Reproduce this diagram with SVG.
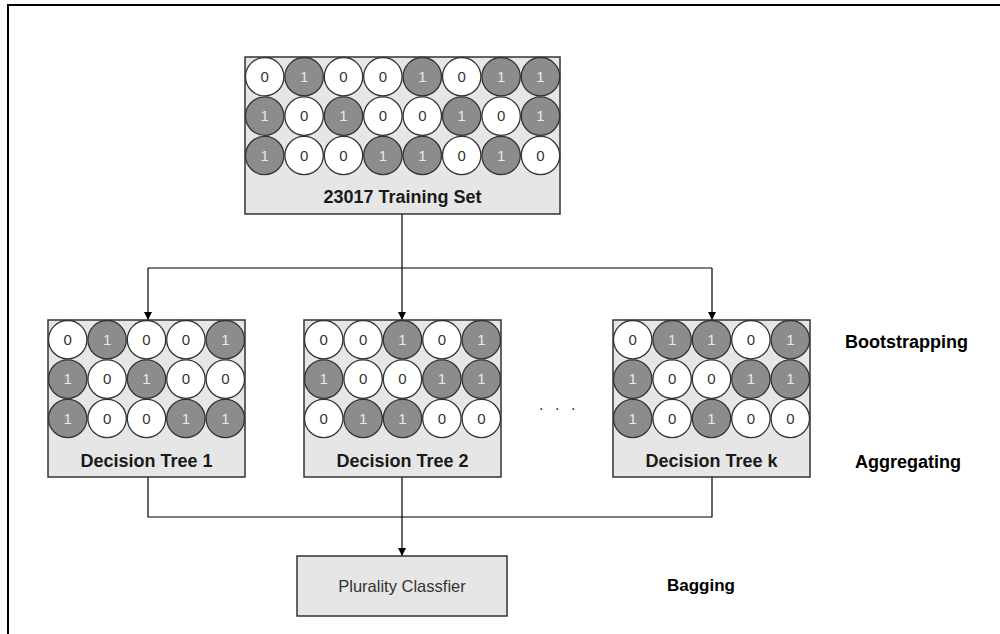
<svg xmlns="http://www.w3.org/2000/svg" width="1000" height="634" viewBox="0 0 1000 634">
<defs>
<style>
.frame{fill:none;stroke:#000;stroke-width:2}
.box{fill:#e6e6e6;stroke:#333;stroke-width:1.5}
.c0{fill:#fff;stroke:#333;stroke-width:1.3}
.c1{fill:#8c8c8c;stroke:#333;stroke-width:1.3}
.t0{font-family:"Liberation Sans",Arial,sans-serif;font-size:15px;fill:#333;text-anchor:middle}
.t1{font-family:"Liberation Sans",Arial,sans-serif;font-size:15px;fill:#e8e8e8;text-anchor:middle}
.lbl{font-family:"Liberation Sans",Arial,sans-serif;font-size:18px;font-weight:bold;fill:#1a1a1a;text-anchor:middle}
.side{font-family:"Liberation Sans",Arial,sans-serif;font-size:18px;font-weight:bold;fill:#000}
.plain{font-family:"Liberation Sans",Arial,sans-serif;font-size:16.5px;fill:#333;text-anchor:middle}
.dots{font-family:"Liberation Sans",Arial,sans-serif;font-size:16px;fill:#333}
.conn{fill:none;stroke:#000;stroke-width:1.2}
</style>
<marker id="arr" markerWidth="10" markerHeight="10" refX="9" refY="5" orient="auto" markerUnits="userSpaceOnUse">
<path d="M1,1 L9,5 L1,9 Z" fill="#000"/>
</marker>
<g id="z"><circle r="19.2" class="c0"/><text y="5.3" class="t0">0</text></g>
<g id="o"><circle r="19.2" class="c1"/><text y="5.3" class="t1">1</text></g>
</defs>
<rect class="frame" x="8" y="5" width="1000" height="640"/>
<g id="connectors">
<path class="conn" d="M402,214 V268 M148,268 H712" />
<path class="conn" d="M148,268 V320" marker-end="url(#arr)"/>
<path class="conn" d="M402,268 V320" marker-end="url(#arr)"/>
<path class="conn" d="M712,268 V320" marker-end="url(#arr)"/>
<path class="conn" d="M148,477 V517 H712 V477 M402,477 V517"/>
<path class="conn" d="M402,517 V556" marker-end="url(#arr)"/>
</g>
<g id="training-set">
<rect class="box" x="245" y="57" width="315" height="157"/>
<use href="#z" x="264.7" y="76.7"/><use href="#o" x="304.1" y="76.7"/><use href="#z" x="343.5" y="76.7"/><use href="#z" x="382.9" y="76.7"/><use href="#o" x="422.3" y="76.7"/><use href="#z" x="461.7" y="76.7"/><use href="#o" x="501.1" y="76.7"/><use href="#o" x="540.5" y="76.7"/>
<use href="#o" x="264.7" y="116.1"/><use href="#z" x="304.1" y="116.1"/><use href="#o" x="343.5" y="116.1"/><use href="#z" x="382.9" y="116.1"/><use href="#z" x="422.3" y="116.1"/><use href="#o" x="461.7" y="116.1"/><use href="#z" x="501.1" y="116.1"/><use href="#o" x="540.5" y="116.1"/>
<use href="#o" x="264.7" y="155.5"/><use href="#z" x="304.1" y="155.5"/><use href="#z" x="343.5" y="155.5"/><use href="#o" x="382.9" y="155.5"/><use href="#o" x="422.3" y="155.5"/><use href="#z" x="461.7" y="155.5"/><use href="#o" x="501.1" y="155.5"/><use href="#z" x="540.5" y="155.5"/>
<text class="lbl" x="402.5" y="203">23017 Training Set</text>
</g>
<g id="tree-1">
<rect class="box" x="48" y="320" width="197" height="157"/>
<use href="#z" x="67.7" y="339.7"/><use href="#o" x="107.1" y="339.7"/><use href="#z" x="146.5" y="339.7"/><use href="#z" x="185.9" y="339.7"/><use href="#o" x="225.3" y="339.7"/>
<use href="#o" x="67.7" y="379.1"/><use href="#z" x="107.1" y="379.1"/><use href="#o" x="146.5" y="379.1"/><use href="#z" x="185.9" y="379.1"/><use href="#z" x="225.3" y="379.1"/>
<use href="#o" x="67.7" y="418.5"/><use href="#z" x="107.1" y="418.5"/><use href="#z" x="146.5" y="418.5"/><use href="#o" x="185.9" y="418.5"/><use href="#o" x="225.3" y="418.5"/>
<text class="lbl" x="146.5" y="467">Decision Tree 1</text>
</g>
<g id="tree-2">
<rect class="box" x="304" y="320" width="197" height="157"/>
<use href="#z" x="323.7" y="339.7"/><use href="#z" x="363.1" y="339.7"/><use href="#o" x="402.5" y="339.7"/><use href="#z" x="441.9" y="339.7"/><use href="#o" x="481.3" y="339.7"/>
<use href="#o" x="323.7" y="379.1"/><use href="#z" x="363.1" y="379.1"/><use href="#z" x="402.5" y="379.1"/><use href="#o" x="441.9" y="379.1"/><use href="#o" x="481.3" y="379.1"/>
<use href="#z" x="323.7" y="418.5"/><use href="#o" x="363.1" y="418.5"/><use href="#o" x="402.5" y="418.5"/><use href="#z" x="441.9" y="418.5"/><use href="#z" x="481.3" y="418.5"/>
<text class="lbl" x="402.5" y="467">Decision Tree 2</text>
</g>
<g id="tree-k">
<rect class="box" x="613" y="320" width="197" height="157"/>
<use href="#z" x="632.7" y="339.7"/><use href="#o" x="672.1" y="339.7"/><use href="#o" x="711.5" y="339.7"/><use href="#z" x="750.9" y="339.7"/><use href="#o" x="790.3" y="339.7"/>
<use href="#o" x="632.7" y="379.1"/><use href="#z" x="672.1" y="379.1"/><use href="#z" x="711.5" y="379.1"/><use href="#o" x="750.9" y="379.1"/><use href="#o" x="790.3" y="379.1"/>
<use href="#o" x="632.7" y="418.5"/><use href="#z" x="672.1" y="418.5"/><use href="#o" x="711.5" y="418.5"/><use href="#z" x="750.9" y="418.5"/><use href="#z" x="790.3" y="418.5"/>
<text class="lbl" x="711.5" y="467">Decision Tree k</text>
</g>
<g id="ellipsis"><text class="dots" x="539 555 571" y="410">...</text></g>
<g id="plurality-classifier">
<rect class="box" x="297" y="556" width="210" height="60"/>
<text class="plain" x="402" y="592">Plurality Classfier</text>
</g>
<g id="labels">
<text class="side" x="845" y="348">Bootstrapping</text>
<text class="side" x="855" y="468">Aggregating</text>
<text class="side" x="667" y="591" style="font-size:17px">Bagging</text>
</g>
</svg>
